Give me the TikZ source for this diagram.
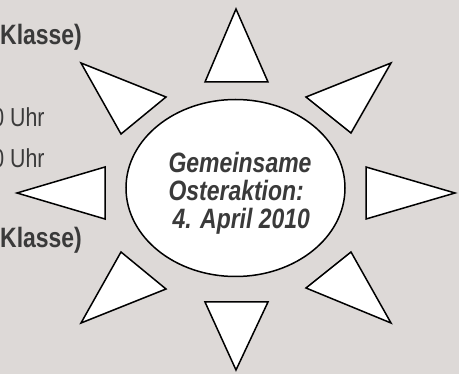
\documentclass[tikz,border=0pt]{standalone}
\usepackage{fontspec}
\setmainfont{Liberation Sans}
\newfontfamily\narrowfont[FakeStretch=0.82]{Liberation Sans}
\usetikzlibrary{shapes.geometric}

\definecolor{paper}{RGB}{221,217,215}
\definecolor{ink}{RGB}{58,58,58}

\tikzset{
    ray/.style={draw=black, fill=white, line width=1.5pt, line join=miter},
    sun/.style={ellipse, draw=black, fill=white, line width=1.5pt, inner sep=0pt,
        minimum width=219pt, minimum height=177pt},
    suntext/.style={align=left, text=ink, inner sep=0pt,
        font=\narrowfont\bfseries\itshape\fontsize{28}{28}\selectfont},
    sidebold/.style={anchor=base west, text=ink, inner sep=0pt,
        font=\narrowfont\bfseries\fontsize{28}{30}\selectfont},
    sideplain/.style={anchor=base west, text=ink, inner sep=0pt,
        font=\narrowfont\fontsize{26}{28}\selectfont}
}

\begin{document}
\begin{tikzpicture}[x=1pt, y=-1pt]
        % Background
        \fill[paper] (0,0) rectangle (459,374);
        \useasboundingbox (0,0) rectangle (459,374);
        \clip (0,0) rectangle (459,374);

        % Side texts
        \node[sidebold]  (klasseA) at (0, 45)    {Klasse)};
        \node[sideplain] (uhrA)    at (-7.8, 127) {0 Uhr};
        \node[sideplain] (uhrB)    at (-7.8, 168) {0 Uhr};
        \node[sidebold]  (klasseB) at (0, 248)   {Klasse)};

        % Rays
        \draw[ray] (236, 9)   -- (268, 82)  -- (205, 82)  -- cycle;
        \draw[ray] (306, 97)  -- (391, 63)  -- (351, 133) -- cycle;
        \draw[ray] (366, 167) -- (455, 193) -- (366, 219) -- cycle;
        \draw[ray] (351, 252) -- (391, 323) -- (306, 288) -- cycle;
        \draw[ray] (205, 302) -- (268, 302) -- (236, 370) -- cycle;
        \draw[ray] (121, 252) -- (166, 289) -- (81, 323)  -- cycle;
        \draw[ray] (105, 167) -- (17, 193)  -- (105, 219) -- cycle;
        \draw[ray] (81, 63)   -- (166, 97)  -- (121, 134) -- cycle;

        % Sun
        \node[sun] (sun) at (235.5, 188) {};
        \node[suntext] (motto) at (240, 193)
            {Gemeinsame\\Osteraktion:\\\hspace{4pt}4. April 2010};
\end{tikzpicture}
\end{document}
